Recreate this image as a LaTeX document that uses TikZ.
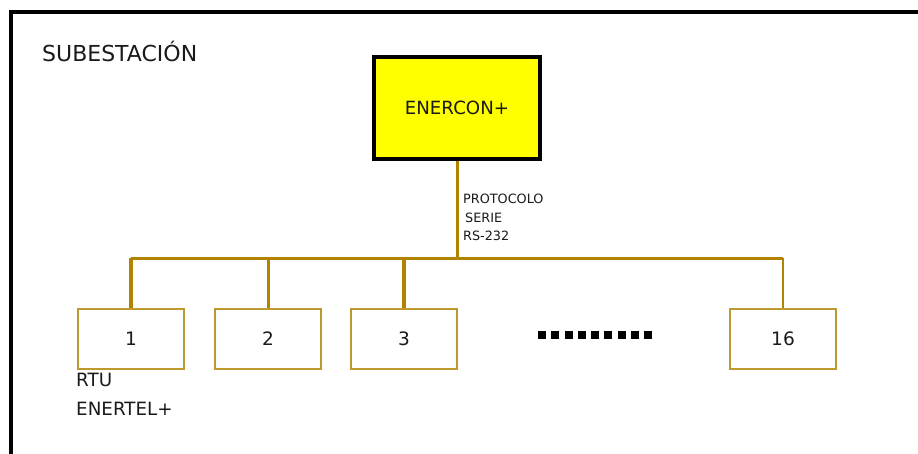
\documentclass[tikz,border=0pt]{standalone}
\usepackage{fontspec}
\setmainfont{DejaVu Sans}
\definecolor{busgold}{HTML}{B08400}
\definecolor{boxgold}{HTML}{BE9A2E}
\definecolor{txtgray}{HTML}{1A1A1A}
\definecolor{pureyellow}{HTML}{FFFF00}
\begin{document}
\begin{tikzpicture}[x=1pt,y=-1pt,
  rtubox/.style={draw=boxgold,line width=1.2pt,fill=white,minimum width=106pt,minimum height=60pt,inner sep=0pt,
    text=txtgray,font=\fontsize{18.5}{18.5}\selectfont},
  mainbox/.style={draw=black,line width=4pt,fill=pureyellow,minimum width=166pt,minimum height=102pt,inner sep=0pt,
    text=txtgray,font=\fontsize{18.2}{18.2}\selectfont},
  bus/.style={draw=busgold,line width=3pt},
  thickdrop/.style={draw=busgold,line width=4pt},
  small/.style={font=\fontsize{12.8}{12.8}\selectfont,text=txtgray,inner sep=0pt,anchor=base west},
  big/.style={font=\fontsize{18.3}{18.3}\selectfont,text=txtgray,inner sep=0pt,anchor=base west},
  dot/.style={fill=black}]
\useasboundingbox (0,0) rectangle (918,453);
\fill[white] (0,0) rectangle (918,453);
% frame (cut off on right and bottom)
\draw[line width=4pt,black] (10.5,460) -- (10.5,12) -- (925,12);
\node[font=\fontsize{22}{22}\selectfont,text=txtgray,inner sep=0pt,anchor=base west] (sub) at (42,61) {SUBESTACIÓN};
\node[mainbox] (enercon) at (457,108) {ENERCON+};
\coordinate (busL) at (131,258);
\coordinate (busR) at (783,258);
\node[rtubox] (b1) at (131,339) {1};
\node[rtubox] (b2) at (268,339) {2};
\node[rtubox] (b3) at (404,339) {3};
\node[rtubox] (b16) at (783,339) {16};
\draw[bus] (enercon.south) -- (enercon.south |- busL);
\draw[bus] (busL) -- (busR);
\draw[thickdrop] (b1.north) -- (b1.north |- busL);
\draw[bus] (b2.north) -- (b2.north |- busL);
\draw[thickdrop] (b3.north) -- (b3.north |- busL);
\draw[bus,line width=2.5pt] (b16.north) -- (busR);
\node[small] (p1) at (463,203) {PROTOCOLO};
\node[small] (p2) at (465,222) {SERIE};
\node[small] (p3) at (463,240) {RS-232};
\node[big] (rtu) at (76,386) {RTU};
\node[big] (enertel) at (76,415) {ENERTEL+};
\foreach \i in {0,...,8} {
  \fill[dot] ({538+13.25*\i},331) rectangle ++(8,8);
}
\end{tikzpicture}
\end{document}
